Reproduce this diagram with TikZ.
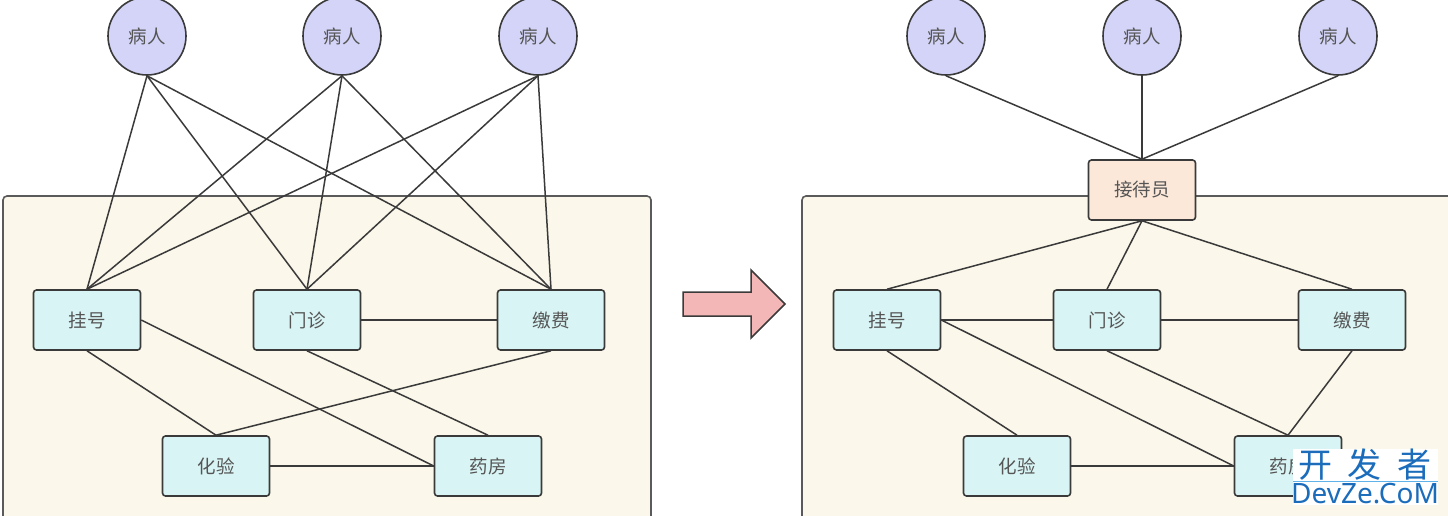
\documentclass[tikz,border=0pt]{standalone}
\usepackage{fontspec}
\setmainfont{Noto Sans CJK SC}
\begin{document}
\begin{tikzpicture}[x=1pt,y=-1pt,
  every node/.style={font=\fontsize{18.5}{20}\selectfont, text=txtgray},
  patient/.style={circle, draw=linegray, line width=1.6pt, fill=lav, minimum size=78pt, inner sep=0pt},
  dept/.style={rectangle, rounded corners=3pt, draw=linegray, line width=1.6pt, fill=cyanbox, minimum width=107pt, minimum height=60pt, inner sep=0pt},
  recept/.style={dept, fill=peach},
  panel/.style={rounded corners=4pt, draw=panelgray, line width=1.6pt, fill=cream},
  link/.style={draw=linegray, line width=1.5pt},
  bigarrow/.style={draw=linegray, line width=1.5pt, fill=pinkarrow, line join=miter},
  wm/.style={text=wmblue}
]
\definecolor{txtgray}{HTML}{555555}
\definecolor{linegray}{HTML}{3A3A3A}
\definecolor{panelgray}{HTML}{5A5A5A}
\definecolor{lav}{HTML}{D3D4F7}
\definecolor{cyanbox}{HTML}{D9F4F4}
\definecolor{peach}{HTML}{FCE8D9}
\definecolor{cream}{HTML}{FBF7EA}
\definecolor{pinkarrow}{HTML}{F4B7B8}
\definecolor{wmblue}{HTML}{1B6CBB}
\definecolor{wmline}{HTML}{5FB3E8}

\useasboundingbox (0,0) rectangle (1448,515);
\begin{scope}
\clip (0,0) rectangle (1448,515);

% panels
\path[panel] (3,196) rectangle (651,540);
\path[panel] (802,196) rectangle (1470,540);

% ===== left side =====
\node[patient] (lp1) at (147,36) {病人};
\node[patient] (lp2) at (342,36) {病人};
\node[patient] (lp3) at (538,36) {病人};

\node[dept] (lg) at (87,320) {挂号};
\node[dept] (lm) at (307,320) {门诊};
\node[dept] (lj) at (551,320) {缴费};
\node[dept] (lh) at (216,466) {化验};
\node[dept] (ly) at (488,466) {药房};

\foreach \p in {lp1,lp2,lp3}{
  \foreach \d in {lg,lm,lj}{
    \draw[link] (\p.south) -- (\d.north);
  }
}
\draw[link] (lm.east) -- (lj.west);
\draw[link] (lg.south) -- (lh.north);
\draw[link] (lg.east) -- (ly.west);
\draw[link] (lm.south) -- (ly.north);
\draw[link] (lj.south) -- (lh.north);
\draw[link] (lh.east) -- (ly.west);

% ===== arrow =====
\path[bigarrow] (683,292) -- (751,292) -- (751,270) -- (785,304) -- (751,338) -- (751,316) -- (683,316) -- cycle;

% ===== right side =====
\node[patient] (rp1) at (946,36) {病人};
\node[patient] (rp2) at (1142,36) {病人};
\node[patient] (rp3) at (1338,36) {病人};

\node[recept] (rr) at (1142,190) {接待员};

\node[dept] (rg) at (887,320) {挂号};
\node[dept] (rm) at (1107,320) {门诊};
\node[dept] (rj) at (1352,320) {缴费};
\node[dept] (rh) at (1017,466) {化验};
\node[dept] (ry) at (1288,466) {药房};

\foreach \p in {rp1,rp2,rp3}{
  \draw[link] (\p.south) -- (rr.north);
}
\foreach \d in {rg,rm,rj}{
  \draw[link] (rr.south) -- (\d.north);
}
\draw[link] (rg.east) -- (rm.west);
\draw[link] (rm.east) -- (rj.west);
\draw[link] (rg.south) -- (rh.north);
\draw[link] (rg.east) -- (ry.west);
\draw[link] (rm.south) -- (ry.north);
\draw[link] (rj.south) -- (ry.north);
\draw[link] (rh.east) -- (ry.west);

% ===== watermark =====
\fill[white] (1293,449) rectangle (1438,505);
\node[wm, font=\fontsize{34}{36}\selectfont, anchor=center] (wm1) at (1365,465) {开\hspace{0.45em}发\hspace{0.45em}者};
\draw[wmline, line width=0.8pt] (1293,481) -- (1438,481);
\node[wm, font=\fontsize{28}{30}\selectfont\sffamily, anchor=center] (wm2) at (1365,494) {\fontspec{Noto Sans}DevZe.CoM};
\end{scope}
\end{tikzpicture}
\end{document}
